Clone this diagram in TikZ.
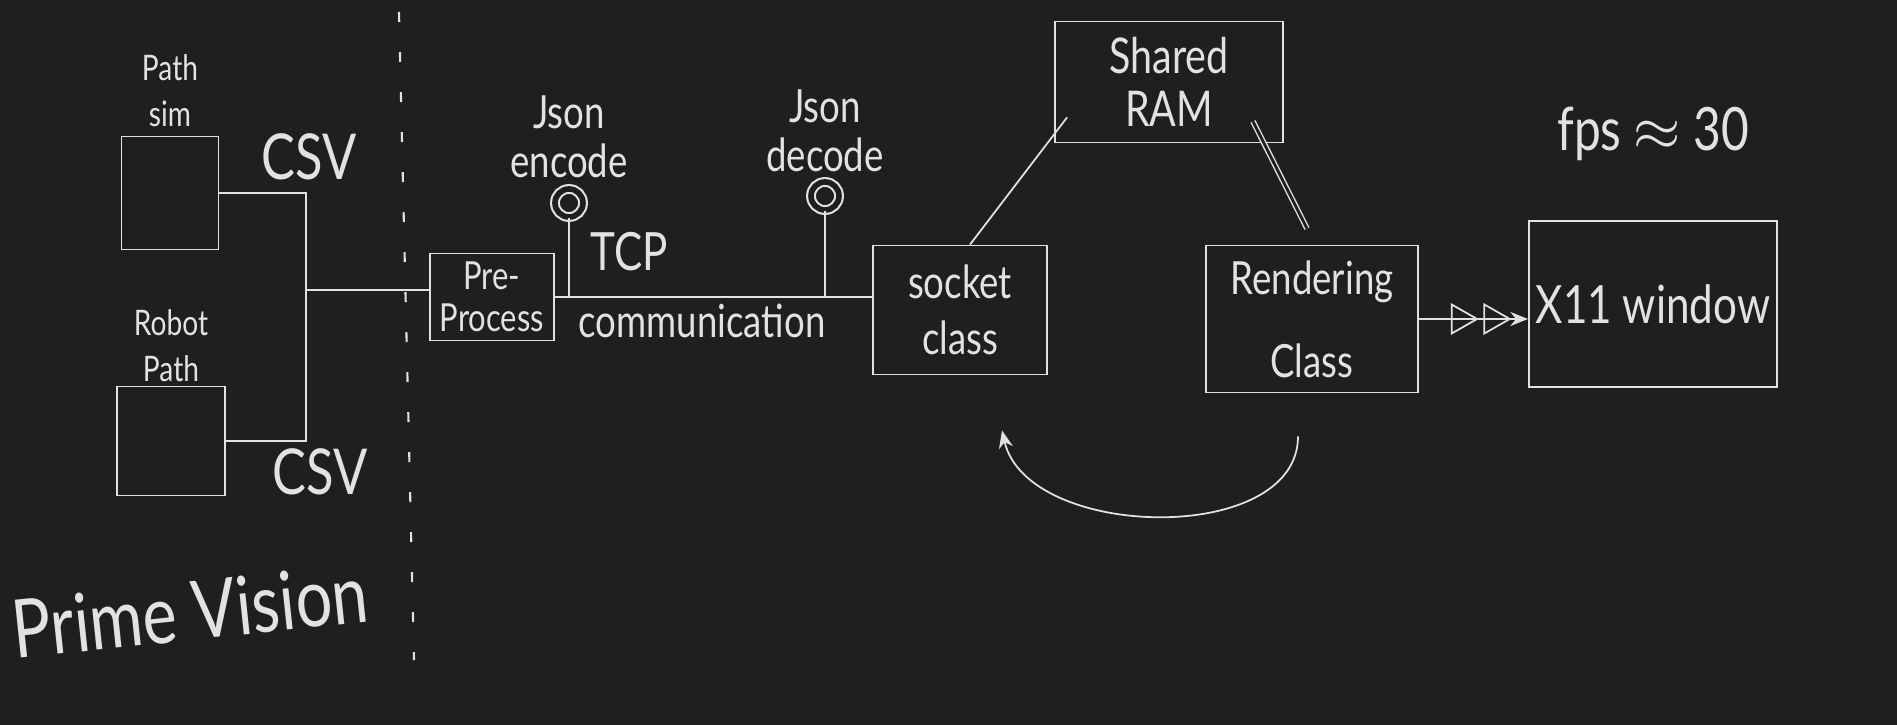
\documentclass[tikz,border=0pt]{standalone}
\usepackage{fontspec}
\setmainfont{Lato}[FakeStretch=0.8]
\usepackage{xcolor}
\usetikzlibrary{arrows.meta, positioning, calc, decorations.markings}

\definecolor{board}{RGB}{32,31,30}
\definecolor{chalk}{RGB}{226,226,224}

\begin{document}
\begin{tikzpicture}[
        x=0.01cm, y=-0.01cm,
        every node/.style={text=chalk},
        box/.style={rectangle, draw=chalk, line width=0.5pt, inner sep=2pt, align=center},
        pin/.style={circle, draw=chalk, double=board, double distance=1.6pt, line width=0.6pt, minimum size=0.28cm, inner sep=0pt},
        wire/.style={draw=chalk, line width=0.5pt},
        arrow/.style={-{Stealth[length=5pt, width=4pt]}, draw=chalk, line width=0.5pt},
        twotri/.style={postaction={decorate}, decoration={markings,
            mark=at position 0.55 with {\arrow{Triangle[open, length=8pt, width=9pt]}},
            mark=at position 0.85 with {\arrow{Triangle[open, length=8pt, width=9pt]}}}},
        note/.style={align=center, inner sep=1pt, font=\fontsize{10}{13}\selectfont},
        tag/.style={align=center, inner sep=1pt, font=\fontsize{13}{14}\selectfont},
        big/.style={inner sep=1pt, font=\fontsize{17}{20}\selectfont},
    ]
        \useasboundingbox (0,0) rectangle (1897,725);
        \fill[board] (0,0) rectangle (1897,725);

        % Inputs (left of the divider)
        \node[box, minimum width=0.97cm, minimum height=1.13cm] (pathsim) at (170,193) {};
        \node[box, minimum width=1.08cm, minimum height=1.09cm] (robot) at (171,441) {};
        \node[note, above=0.05cm of pathsim] (pathlbl) {Path\\sim};
        \node[note, above=0cm of robot] (robotlbl) {Robot\\Path};
        \node[big, font=\fontsize{18}{20}\selectfont] (csvtop) at (309,157) {CSV};
        \node[big, font=\fontsize{18}{20}\selectfont] (csvbot) at (320,472) {CSV};

        % Divider
        \draw[chalk, line width=0.6pt, dash pattern=on 0.1cm off 0.3cm] (399,12) -- (414,660);
        \node[big, rotate=6, font=\fontsize{23}{26}\selectfont] (brand) at (190,611) {Prime Vision};

        % Pipeline
        \node[box, minimum width=1.24cm, minimum height=0.87cm, font=\fontsize{11}{12}\selectfont] (preproc) at (492,297) {Pre-\\Process};
        \node[box, minimum width=1.74cm, minimum height=1.29cm, font=\fontsize{13}{16}\selectfont] (socket) at (960,310) {socket\\class};
        \node[box, minimum width=2.28cm, minimum height=1.21cm, font=\fontsize{14}{15}\selectfont] (ram) at (1169,82) {Shared\\RAM};
        \node[box, minimum width=2.12cm, minimum height=1.47cm, font=\fontsize{13}{15}\selectfont] (render) at (1312,319) {Rendering\\[0.3cm]Class};
        \node[box, minimum width=2.46cm, minimum height=1.66cm, font=\fontsize{15}{17}\selectfont] (xwin) at (1653,304) {X11 window};
        \node[big, above=0.55cm of xwin] (fps) {fps $\approx$ 30};

        % Json pins
        \node[pin] (enc) at (569,203) {};
        \node[pin] (dec) at (825,196) {};
        \node[tag, above=0.06cm of enc] (enclbl) {Json\\encode};
        \node[tag, above=0.05cm of dec] (declbl) {Json\\decode};
        \node[big, font=\fontsize{15}{17}\selectfont] (tcp) at (629,252) {TCP};
        \node[tag] (comm) at (702,321) {communication};

        % Connections
        \coordinate (bus) at (306,290);
        \draw[wire] (pathsim.east) -| (bus) |- (robot.east);
        \draw[wire] (bus) -- (bus -| preproc.west);
        \draw[wire] (preproc.east) -- (preproc.east -| socket.west);
        \draw[wire] (enc) -- (enc |- preproc.east);
        \draw[wire] (dec) -- (dec |- preproc.east);
        \draw[wire] ($(socket.north)+(10,0)$) -- ($(ram.south west)+(13,-26)$);
        \draw[wire, double=board, double distance=0.8pt, line width=0.4pt] ($(ram.south east)+(-31,-22)$) -- ($(render.north)+(-5,-16)$);
        \draw[arrow, twotri] (render.east) -- (render.east -| xwin.west);
        \draw[arrow] ($(render.south)+(-14,43)$) .. controls +(0,110) and +(25,110) .. ($(socket.south)+(42,55)$);
    \end{tikzpicture}
\end{document}
